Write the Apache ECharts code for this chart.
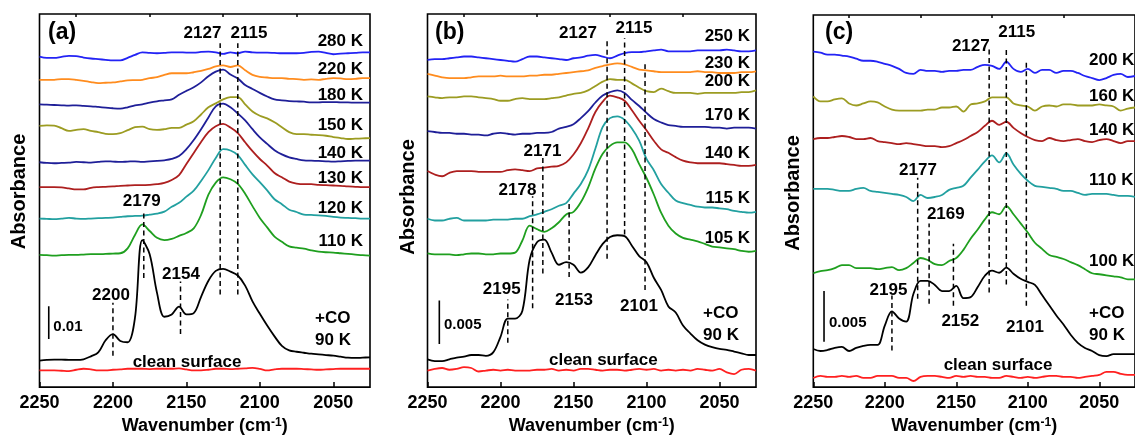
<!DOCTYPE html>
<html>
<head>
<meta charset="utf-8">
<title>CO adsorption IR spectra</title>
<script src="https://cdn.jsdelivr.net/npm/echarts@6/dist/echarts.min.js"></script>
<style>
  html, body { margin: 0; padding: 0; background: #fff; }
  #chart { width: 1135px; height: 440px; }
</style>
</head>
<body>
<div id="chart"></div>
<script>
// Wavenumber grid shared by every spectrum (cm-1)
const wavenumbers = [2250,2245,2240,2235,2230,2225,2220,2215,2210,2205,
  2200,2195,2190,2185,2180,2175,2170,2165,2160,2155,
  2150,2145,2140,2135,2130,2125,2120,2115,2110,2105,
  2100,2095,2090,2085,2080,2075,2070,2065,2060,2055,
  2050,2045,2040,2035,2030,2025];

// Absorbance signals in units of 0.001 (mAbs), relative to each trace's baseline
// ---- panel (a) ----
const a280K = [0.1,-0.3,-0.3,0,0.3,0.2,-0.2,-0.5,-0.7,-0.9, -1.1,-1.1,-0.3,0.6,1.4,1.2,1.1,1.2,1.4,1.4, 1.3,1.3,1.5,1.6,1.4,0.9,1.4,1.1,1.6,1.4, 1.3,1.3,1.2,1.1,1.1,1.1,1.2,1.5,1.6,1.2, 0.8,1.0,1.1,1.2,1.4,1.4];
const a220K = [0,0,0,0.2,0.2,0,-0.3,-0.7,-1.0,-0.9, -0.8,-0.5,-0.2,-0.1,0,0.5,0.8,1.5,2.0,2.0, 2.0,2.3,2.7,3.3,4.1,4.4,3.9,4.4,2.9,1.5, 0.9,0.7,0.5,0.5,0.3,0.2,0,0.1,0,0.3, 0.5,0.4,0.2,0.3,0.5,0.5];
const a180K = [0,-0.1,-0.2,-0.3,-0.4,-0.3,-0.5,-0.6,-0.8,-1.0, -1.2,-1.3,-0.9,-0.3,0,0.5,0.9,1.2,1.5,2.9, 4.1,5.2,6.7,8.6,10.0,10.6,9.1,7.9,5.9,4.7, 3.5,2.4,1.5,1.2,1.0,0.9,0.8,0.6,0.6,0.7, 0.7,0.6,0.6,0.5,0.5,0.5];
const a150K = [0.4,0.6,0.5,-0.3,-1.1,-0.8,-0.6,-1.1,-1.5,-2.0, -2.1,-1.8,-0.9,0,0.2,-0.6,-0.8,-0.6,-0.2,-0.2, 0.8,1.8,3.9,6.1,7.3,8.5,9.2,9.2,7.0,4.8, 3.5,2.7,1.5,0,-1.5,-2.1,-2.1,-2.3,-2.4,-2.6, -3.0,-3.3,-3.6,-3.5,-3.4,-3.3];
const a140K = [-0.1,-0.3,-0.4,-0.3,-0.2,0,-0.1,-0.2,0,0.2, 0.1,0,0.1,0.2,0,0.2,0.3,0.5,0.9,1.8, 3.9,6.7,10.0,13.6,17.0,17.8,16.7,14.8,12.7,10.0, 7.5,5.5,3.6,2.3,1.4,0.9,0.5,0.4,0.3,0.2, 0.1,0.2,0.3,0.4,0.4,0.4];
const a130K = [-0.4,-0.4,-0.4,-0.5,-0.8,-1.1,-1.1,-0.6,-0.4,-0.3, -0.2,0,0.1,0.2,0.2,0.3,0.5,0.9,1.8,3.3, 6.7,10.0,13.4,16.4,18.2,18.9,17.8,16.1,13.3,10.6, 8.2,6.2,3.9,2.6,1.3,0.7,0.5,0.5,0.3,0.2, 0.1,0,-0.2,-0.3,-0.4,-0.4];
const a120K = [0,-0.1,-0.2,0,0.2,0,-0.1,0,0.1,0.2, 0.3,0.5,0.7,0.8,0.9,1.2,1.5,2.1,3.6,4.8, 6.7,8.5,11.5,14.8,18.5,21.2,20.8,19.4,16.4,13.5, 11.1,8.6,5.9,4.4,2.7,2.0,1.2,1.1,1.0,0.8, 0.5,0.3,0.2,0.1,0,0];
const a110K = [0,-0.1,-0.2,-0.1,0,0,0.1,0.2,0.2,0.3, 0.4,0.5,2.0,6.1,9.3,7.3,5.2,4.5,4.9,5.8, 6.7,8.1,12.2,18.4,22.1,23.7,23.1,21.7,18.7,14.9, 11.3,8.4,5.6,4.0,2.6,2.2,1.9,1.4,1.0,0.8, 0.7,0.5,0.3,0.1,-0.1,-0.2];
const a90K  = [0,0.2,0.3,0.3,0.2,0.2,0.4,1.3,2.5,6.2, 8.1,6.0,5.6,13.1,36.8,32.5,20.7,13.4,14.1,16.5, 14.1,14.5,19.5,24.4,27.4,28.0,27.2,26.0,22.9,18.1, 14.3,10.7,7.4,4.5,3.1,2.7,2.4,2.1,1.9,1.7, 1.5,1.2,0.9,0.8,0.9,1.0];
const aClean = [0,0,0,-0.1,-0.2,0.2,0.5,0.3,0,0, 0.2,0.3,0.5,0.5,0.5,0.4,0.5,0.5,0.5,0.6, 0.3,0,0,0.2,0.5,0.5,0.4,0.5,0.6,0.8, 0.5,0,0.3,0.5,0.5,0.5,0.4,0.3,0.2,0.3, 0.4,0.5,0.5,0.5,0.5,0.5];
const aOffsets = [100.9, 93.9, 86.4, 79.4, 68.8, 61.5, 51.5, 40.4, 8.1, 5.1];
const aTemps = ['280 K','220 K','180 K','150 K','140 K','130 K','120 K','110 K'];
const aPeaks = [2127, 2115, 2179, 2154, 2200];

// ---- panel (b) ----
const b250K = [0,0.1,0.1,0.2,0.3,0.4,0.4,0.3,0.2,0.1, 0,-0.1,-0.2,0.1,0.4,0.4,0.3,0.2,0.1,0, 0.2,0.3,0.5,0.6,0.4,0.2,0.5,0.8,0.9,0.9, 1.0,1.1,1.2,1.0,1.0,1.0,1.0,1.1,1.1,1.1, 1.1,1.2,1.1,1.0,1.0,1.1];
const b230K = [0.1,-0.1,-0.3,-0.4,-0.4,-0.4,-0.3,-0.2,-0.2,-0.2, -0.1,-0.2,-0.2,-0.2,-0.1,-0.1,0,0,0.1,0.2, 0.3,0.4,0.5,0.8,1.0,1.2,1.3,1.2,0.9,0.6, 0.5,0.4,0.3,0.3,0.3,0.3,0.3,0.4,0.3,0.3, 0.2,0.2,0.2,0.3,0.3,0.4];
const b200K = [0,-0.1,-0.2,-0.1,-0.1,0,0,-0.1,-0.2,-0.3, -0.5,-0.5,-0.3,-0.2,-0.3,-0.3,-0.3,-0.2,-0.1,0.1, 0.3,0.4,0.7,1.2,1.7,2.0,1.9,1.9,1.5,1.0, 0.6,0.5,0.9,0.6,0.4,0.4,0.4,0.3,0.4,0.4, 0.4,0.4,0.4,0.5,0.5,0.7];
const b170K = [0,-0.1,-0.2,-0.2,-0.3,-0.3,-0.4,-0.4,-0.5,-0.3, -0.2,-0.3,-0.4,-0.3,-0.3,-0.2,-0.2,-0.1,0.3,0.5, 0.8,1.5,2.3,3.3,4.1,4.5,4.7,4.4,3.6,2.9, 2.1,1.4,1.0,0.7,0.6,0.5,0.5,0.5,0.5,0.4, 0.4,0.3,0.4,0.4,0.4,0.3];
const b140K = [0,-0.4,-0.6,-0.2,0,0,0,-0.1,-0.1,-0.1, -0.1,0.1,0.2,0.1,0,0.3,0.4,0.5,0.6,1.0, 1.9,3.2,4.9,6.8,8.0,8.7,8.5,8.1,7.0,5.8, 4.7,3.5,2.5,2.1,1.6,1.2,1.0,0.9,0.9,0.9, 0.9,0.8,0.7,0.6,0.6,0.7];
const b115K = [0.1,-0.1,-0.1,0.1,0.2,-0.1,-0.1,-0.1,-0.1,0, 0,0,0.1,0.1,0.4,0.6,0.9,1.2,1.6,1.9, 3.0,4.1,5.7,8.2,10.7,11.7,11.9,11.5,10.5,9.1, 7.0,5.7,4.1,3.1,2.2,1.9,1.7,1.5,1.4,1.4, 1.3,1.2,1.0,0.9,0.8,0.9];
const b105K = [0,-0.1,-0.1,-0.1,-0.2,-0.1,0,0,-0.1,-0.1, 0,0,0.1,1.5,3.2,2.8,2.5,2.9,3.6,4.5, 4.8,5.9,7.6,9.8,11.5,12.4,12.8,12.8,12.0,10.3, 8.7,6.8,4.7,3.2,2.3,1.8,1.6,1.4,1.1,0.8, 0.7,0.6,0.5,0.3,0.2,0.3];
const b90K  = [0.1,-0.1,-0.1,0.1,0.3,0.4,0.6,0.6,0.5,0.9, 2.7,4.8,4.8,5.7,11.6,13.6,13.9,12.4,11.0,11.3, 11.0,10.1,10.7,12.1,13.4,14.2,14.4,14.3,13.2,12.0, 11.3,9.5,8.1,6.2,5.5,4.0,3.1,2.3,1.8,1.5, 1.3,1.2,1.0,0.8,0.6,0.6];
const bClean = [0,0.2,0.3,0.1,0.2,0.4,0.3,-0.1,0,0.1, 0,0.1,0,0,0,0.1,0.1,0.2,0,0.1, 0,0.2,0.2,0.1,0,0.1,0.1,0,0.1,0.2, 0.1,0.2,0,0.1,0,0.1,0,0.2,0.1,0, 0.2,-0.2,-0.4,0.1,0.2,0];
const bOffsets = [37.7, 36.0, 33.5, 29.5, 24.9, 19.3, 15.4, 3.1, 1.9];
const bTemps = ['250 K','230 K','200 K','170 K','140 K','115 K','105 K'];
const bPeaks = [2127, 2115, 2101, 2171, 2178, 2153, 2195];

// ---- panel (c) ----
const c200K = [1.8,1.7,1.5,1.5,1.4,1.3,1.1,0.9,0.9,0.8, 0.6,0.4,0.1,-0.3,-0.4,0,-0.1,-0.1,-0.2,-0.1, -0.1,0,0,0.3,0.5,0.4,0.1,0.8,0.1,-0.2, 0.1,-0.3,0,0,-0.3,-0.1,-0.1,-0.3,-0.6,-0.8, -1.0,-0.8,-0.5,-0.4,-0.7,-0.6];
const c160K = [1.0,0.5,0.5,0.7,0.8,0.3,0.1,0.3,0.5,0.4, 0,-0.3,-0.4,-0.4,-0.4,-0.4,-0.3,-0.3,-0.1,-0.1, 0,-0.5,0.2,0.3,0.5,0.9,0.9,0.9,0.3,0.1, 0,-0.4,0,0.1,0,0.2,0.2,0.1,0.1,0.1, 0.2,0.1,0,-0.4,-0.2,-0.1];
const c140K = [0.1,0.2,0.2,0.3,0.4,0.3,0.1,0.1,0.2,-0.1, -0.2,-0.3,-0.4,-0.3,-0.4,-0.5,-0.6,-0.6,-0.7,-0.6, -0.3,0,0.4,0.8,1.4,1.9,1.5,1.8,1.2,0.7, 0.3,0,-0.1,0.2,0,-0.1,0,0.1,-0.1,-0.2, 0,0.1,-0.1,-0.3,-0.1,-0.1];
const c110K = [0.1,0.1,0.1,0,-0.1,-0.1,0.1,0.2,-0.1,-0.2, -0.3,-0.4,-0.5,-0.7,-1.1,-0.5,-0.8,-0.7,-0.5,0, 0.2,0.4,1.2,2.0,2.8,3.4,2.7,3.6,2.5,1.6, 0.9,0.4,0.3,0.2,0.1,-0.1,-0.1,-0.3,-0.5,-0.4, -0.4,-0.4,-0.5,-0.6,-0.6,-0.7];
const c100K = [-0.4,-0.2,-0.1,0.1,0.4,0.4,0.1,0.1,0.1,0, 0.1,0.2,-0.1,0.1,0.6,1.1,0.9,0.5,0.4,0.8, 1.1,1.9,3.0,3.9,4.9,5.6,5.4,6.2,5.4,4.5, 3.6,2.6,2.0,1.4,1.2,1.0,0.7,0.4,0,-0.4, -0.5,-0.6,-0.7,-0.8,-1.0,-1.0];
const c90K  = [0,-0.2,-0.1,0.1,0.2,-0.2,0.1,0.3,0.4,0.4, 2.3,3.7,3.0,2.7,5.4,6.7,6.7,6.3,5.7,5.7, 6.2,5.0,5.1,6.1,7.2,7.7,7.5,8.0,7.4,6.9, 6.6,6.3,5.3,4.3,3.3,2.4,1.4,0.6,0.1,-0.2, -0.6,-0.7,-0.5,-0.5,-0.5,-0.5];
const cClean = [0,0.2,0.1,0.1,0.2,0.1,0.2,0,0,0.2, 0.2,0.2,0,0,-0.3,0.1,0.2,0.2,0.1,0, 0.2,0.1,0.2,0.1,0.1,0,0,0.2,0.1,0, 0.1,0,0.1,0.2,0.2,0.1,0.1,0,0.1,0.2, 0.3,0.6,0.6,0.4,0.3,0.3];
const cOffsets = [31.2, 27.6, 24.3, 19.4, 11.6, 3.75, 0.9];
const cTemps = ['200 K','160 K','140 K','110 K','100 K'];
const cPeaks = [2127, 2115, 2101, 2177, 2169, 2152, 2195];

// Scale bars (absorbance)
const scaleBars = [0.01, 0.005, 0.005];
const majorTicks = [2250, 2200, 2150, 2100, 2050];
const minorTicks = [2225, 2175, 2125, 2075];

// ---------------- layout & styling ----------------
const FONT = '"Liberation Sans", Arial, sans-serif';
const C = {
  blue: '#2323f5', orange: '#ff8c1e', navy: '#1f1f98', olive: '#9c9c22',
  maroon: '#ad1f1f', teal: '#22a0a0', green: '#1f9f1f', black: '#000000', red: '#ff2020'
};

const panels = [
  { grid: { left: 39.5, top: 14, width: 330.5, height: 376 }, yMax: 114,
    traces: [a280K, a220K, a180K, a150K, a140K, a130K, a120K, a110K, a90K, aClean],
    offsets: aOffsets,
    colors: [C.blue, C.orange, C.navy, C.olive, C.navy, C.maroon, C.teal, C.green, C.black, C.red],
    peaks: aPeaks,
    dashSpan: [[28.3,105.1],[28.3,105.1],[33.3,54.0],[16.2,32.3],[9.6,25.8]],
    bar: { wn: 2243.7, base: 14.7 } },
  { grid: { left: 427.5, top: 14, width: 328.5, height: 378 }, yMax: 43,
    traces: [b250K, b230K, b200K, b170K, b140K, b115K, b105K, b90K, bClean],
    offsets: bOffsets,
    colors: [C.blue, C.orange, C.olive, C.navy, C.maroon, C.teal, C.green, C.black, C.red],
    peaks: bPeaks,
    dashSpan: [[14.8,40.2],[17.6,40.2],[11.2,37.2],[13.1,26.4],[9.1,22.0],[12.7,21.1],[5.1,10.1]],
    bar: { wn: 2241.9, base: 4.97 } },
  { grid: { left: 813.3, top: 15, width: 330, height: 377.7 }, yMax: 36.6,
    traces: [c200K, c160K, c140K, c110K, c100K, c90K, cClean],
    offsets: cOffsets,
    colors: [C.blue, C.olive, C.maroon, C.teal, C.green, C.black, C.red],
    peaks: cPeaks,
    dashSpan: [[9.3,33.2],[10.1,33.3],[8.0,31.9],[8.7,20.6],[8.2,16.1],[8.0,14.1],[3.6,9.0]],
    bar: { wn: 2242.5, base: 4.46 } }
];

const grids = [], xAxes = [], yAxes = [], series = [];

panels.forEach((p, i) => {
  grids.push(Object.assign({ show: true, borderColor: '#000', borderWidth: 1.6, containLabel: false }, p.grid));
  // main axis: labels + major ticks
  xAxes.push({
    type: 'value', gridIndex: i, min: 2025, max: 2250, inverse: true,
    axisLine: { show: false }, splitLine: { show: false },
    axisTick: { show: true, inside: true, length: 5, customValues: majorTicks, lineStyle: { color: '#000', width: 1.5 } },
    axisLabel: { customValues: majorTicks, formatter: v => String(v), color: '#000', fontSize: 18, fontWeight: 'bold', fontFamily: FONT, margin: 7 },
    name: 'Wavenumber (cm{sup|-1})', nameLocation: 'middle', nameGap: 29,
    nameTextStyle: {
      color: '#000', fontSize: 18, fontWeight: 'bold', fontFamily: FONT,
      rich: { sup: { fontSize: 12, fontWeight: 'bold', fontFamily: FONT, color: '#000', verticalAlign: 'top' } }
    }
  });
  // secondary axis: minor ticks only
  xAxes.push({
    type: 'value', gridIndex: i, min: 2025, max: 2250, inverse: true,
    axisLine: { show: false }, splitLine: { show: false }, axisLabel: { show: false },
    axisTick: { show: true, inside: true, length: 3, customValues: minorTicks, lineStyle: { color: '#000', width: 1.5 } }
  });
  yAxes.push({ type: 'value', gridIndex: i, min: 0, max: p.yMax, show: false });

  const xi = 2 * i;
  p.traces.forEach((vals, k) => {
    series.push({
      type: 'line', xAxisIndex: xi, yAxisIndex: i, silent: true, animation: false,
      showSymbol: false, smooth: 0.35, z: 2,
      lineStyle: { color: p.colors[k], width: 1.8 },
      data: wavenumbers.map((w, j) => [w, +(p.offsets[k] + vals[j]).toFixed(3)])
    });
  });
  p.peaks.forEach((wn, k) => {
    series.push({
      type: 'line', xAxisIndex: xi, yAxisIndex: i, silent: true, animation: false,
      showSymbol: false, z: 3,
      lineStyle: { color: '#000', width: 1.5, type: [5, 3.5] },
      data: [[wn, p.dashSpan[k][0]], [wn, p.dashSpan[k][1]]]
    });
  });
  // scale bar: length equals the stated absorbance (mAbs units)
  series.push({
    type: 'line', xAxisIndex: xi, yAxisIndex: i, silent: true, animation: false,
    showSymbol: false, z: 3, lineStyle: { color: '#000', width: 1.6 },
    data: [[p.bar.wn, p.bar.base], [p.bar.wn, p.bar.base + scaleBars[i] * 1000]]
  });
});

// text annotations
function txt(x, y, text, size, align, extra) {
  return Object.assign({
    type: 'text', x: x, y: y, z: 10, silent: true,
    style: {
      text: text, fill: '#000', fontSize: size, fontWeight: 'bold', fontFamily: FONT,
      align: align, textAlign: align, verticalAlign: 'middle', textVerticalAlign: 'middle'
    }
  }, extra || {});
}
const g = [];
// panel (a)
g.push(txt(48, 33, '(a)', 23, 'left'));
[41.7, 69.3, 95.7, 125, 153.3, 178.3, 208.3, 241.7].forEach((y, k) => g.push(txt(363, y, aTemps[k], 17, 'right')));
g.push(txt(315, 318.3, '+CO', 17, 'left'), txt(315, 340, '90 K', 17, 'left'));
[[202.5,33],[249,33],[141.7,201.7],[181,274],[111,295]].forEach((q, k) => g.push(txt(q[0], q[1], String(aPeaks[k]), 17, 'center')));
g.push(txt(53.3, 326.7, String(scaleBars[0]), 15, 'left'));
g.push(txt(187, 362, 'clean surface', 17, 'center'));
g.push(txt(19, 191.5, 'Absorbance', 20, 'center', { rotation: Math.PI / 2 }));
// panel (b)
g.push(txt(435, 33, '(b)', 23, 'left'));
[36.7, 63.3, 81.7, 115, 153.3, 198.3, 238.3].forEach((y, k) => g.push(txt(750, y, bTemps[k], 17, 'right')));
g.push(txt(703, 313.3, '+CO', 17, 'left'), txt(703, 335, '90 K', 17, 'left'));
[[578,33],[634,28.3],[639,306],[542.5,151.7],[517.5,190],[574,300],[501.7,289.3]].forEach((q, k) => g.push(txt(q[0], q[1], String(bPeaks[k]), 17, 'center')));
g.push(txt(444, 325, String(scaleBars[1]), 15, 'left'));
g.push(txt(603.3, 360, 'clean surface', 17, 'center'));
g.push(txt(408, 197, 'Absorbance', 20, 'center', { rotation: Math.PI / 2 }));
// panel (c)
g.push(txt(825, 33, '(c)', 23, 'left'));
[60, 96.7, 130, 180, 261.7].forEach((y, k) => g.push(txt(1089, y, cTemps[k], 17, 'left')));
g.push(txt(1089, 313.3, '+CO', 17, 'left'), txt(1089, 335, '90 K', 17, 'left'));
[[970.8,46.7],[1016.7,32.3],[1025,327.3],[918,170],[945.8,214],[960.3,321.7],[888.5,290]].forEach((q, k) => g.push(txt(q[0], q[1], String(cPeaks[k]), 17, 'center')));
g.push(txt(829, 323.3, String(scaleBars[2]), 15, 'left'));
g.push(txt(998, 365.7, 'clean surface', 17, 'center'));
g.push(txt(793, 193, 'Absorbance', 20, 'center', { rotation: Math.PI / 2 }));

const chart = echarts.init(document.getElementById('chart'), null, { renderer: 'canvas' });
chart.setOption({
  animation: false,
  backgroundColor: '#fff',
  grid: grids,
  xAxis: xAxes,
  yAxis: yAxes,
  series: series,
  graphic: { elements: g }
});
</script>
</body>
</html>
